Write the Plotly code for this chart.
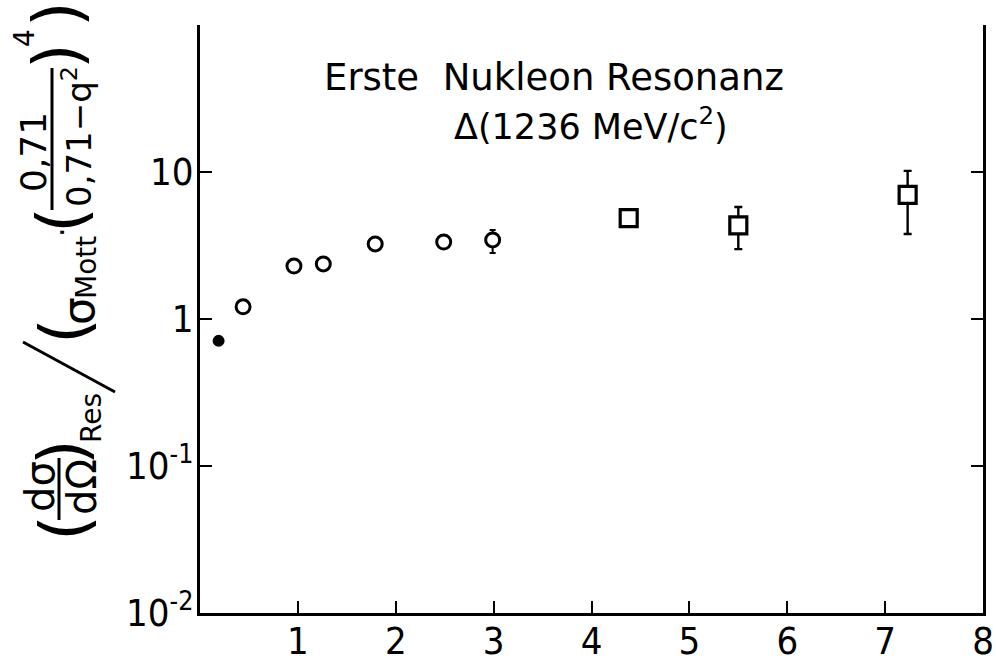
import plotly.graph_objects as go

# ---- data ----
q2_filled = [0.19]
r_filled = [0.71]

q2_open = [0.44, 0.96, 1.26, 1.79, 2.49, 2.99]
r_open = [1.21, 2.29, 2.37, 3.24, 3.34, 3.45]
err_open_plus = [0, 0, 0, 0, 0, 0.58]
err_open_minus = [0, 0, 0, 0, 0, 0.64]

q2_sq = [4.38, 5.50, 7.23]
r_sq = [4.86, 4.33, 6.98]
err_sq_plus = [0, 1.45, 3.2]
err_sq_minus = [0, 1.34, 3.19]

x_ticks = [1, 2, 3, 4, 5, 6, 7, 8]
y_tickvals = [0.01, 0.1, 1, 10]
y_ticktext = ["10<sup>-2</sup>", "10<sup>-1</sup>", "1", "10"]

FONT = "Liberation Sans Narrow, DejaVu Sans Condensed, sans-serif"
W, H = 996, 666
L, R, T, B = 200, 983, 25, 613

fig = go.Figure()
fig.add_trace(go.Scatter(
    x=q2_open, y=r_open, mode="markers",
    marker=dict(symbol="circle", size=14, color="white", line=dict(color="black", width=3)),
    error_y=dict(type="data", symmetric=False, array=err_open_plus, arrayminus=err_open_minus,
                 color="black", thickness=2, width=3),
    showlegend=False))
fig.add_trace(go.Scatter(
    x=q2_filled, y=r_filled, mode="markers",
    marker=dict(symbol="circle", size=12, color="black"), showlegend=False))
fig.add_trace(go.Scatter(
    x=q2_sq, y=r_sq, mode="markers",
    marker=dict(symbol="square", size=17, color="white", line=dict(color="black", width=3.2)),
    error_y=dict(type="data", symmetric=False, array=err_sq_plus, arrayminus=err_sq_minus,
                 color="black", thickness=2.4, width=4),
    showlegend=False))


def px(xp):
    return (xp - L) / (R - L)


def py(yp):
    return (B - yp) / (B - T)


annotations = []
shapes = []


def rtext(text, cx, cy, size, family="DejaVu Sans, sans-serif"):
    annotations.append(dict(text=text, x=px(cx), y=py(cy), xref="paper", yref="paper",
                            textangle=-90, showarrow=False, xanchor="center", yanchor="middle",
                            font=dict(family=family, size=size, color="black")))


def pline(x0, y0, x1, y1, w=2.5):
    shapes.append(dict(type="line", xref="paper", yref="paper",
                       x0=px(x0), y0=py(y0), x1=px(x1), y1=py(y1),
                       line=dict(color="black", width=w)))


# y-axis title built from pieces (rotated)
rtext("(", 64, 528, 66)
rtext("dσ", 40, 487, 40)
pline(59, 458, 59, 520, 3)
rtext("dΩ", 82, 487, 40)
rtext(")", 62, 452, 66)
rtext("Res", 91, 418, 28)
pline(115, 392, 23, 342, 3)
rtext("(", 64, 331, 66)
rtext("σ", 78, 311, 44)
rtext("Mott", 86, 268, 28)
rtext("·", 62, 232, 30)
rtext("(", 61, 220, 66)
rtext("0,71", 34, 152, 36)
pline(52, 68, 52, 210, 3)
rtext("0,71−q<sup>2</sup>", 77, 137, 34)
rtext(")", 57, 56, 66)
rtext("4", 25, 38, 28)
rtext(")", 57, 14, 66)

# title text inside plot
annotations.append(dict(text="Erste  Nukleon Resonanz", x=px(554), y=py(77), xref="paper", yref="paper",
                        showarrow=False, xanchor="center", yanchor="middle",
                        font=dict(family="DejaVu Sans, sans-serif", size=37, color="black")))
annotations.append(dict(text="Δ(1236 MeV/c<sup>2</sup>)", x=px(591), y=py(124), xref="paper", yref="paper",
                        showarrow=False, xanchor="center", yanchor="middle",
                        font=dict(family="DejaVu Sans, sans-serif", size=35, color="black")))

fig.update_layout(
    width=W, height=H,
    margin=dict(l=L, r=W - R, t=T, b=H - B, pad=0, autoexpand=False),
    paper_bgcolor="white", plot_bgcolor="white",
    annotations=annotations, shapes=shapes,
    xaxis=dict(range=[0, 8], tickvals=x_ticks, ticks="inside", ticklen=12, tickwidth=2,
               tickcolor="black", showline=True, linecolor="black", linewidth=3, mirror=False,
               showgrid=False, zeroline=False, ticklabelstandoff=-8, automargin=False,
               tickfont=dict(family=FONT, size=38, color="black")),
    yaxis=dict(type="log", range=[-2, 2], tickvals=y_tickvals, ticktext=y_ticktext,
               ticks="inside", ticklen=12, tickwidth=2, tickcolor="black",
               showline=True, linecolor="black", linewidth=3, mirror="ticks",
               showgrid=False, zeroline=False, ticklabelstandoff=-4, automargin=False,
               tickfont=dict(family=FONT, size=38, color="black")),
)

fig.write_html("out.html")
